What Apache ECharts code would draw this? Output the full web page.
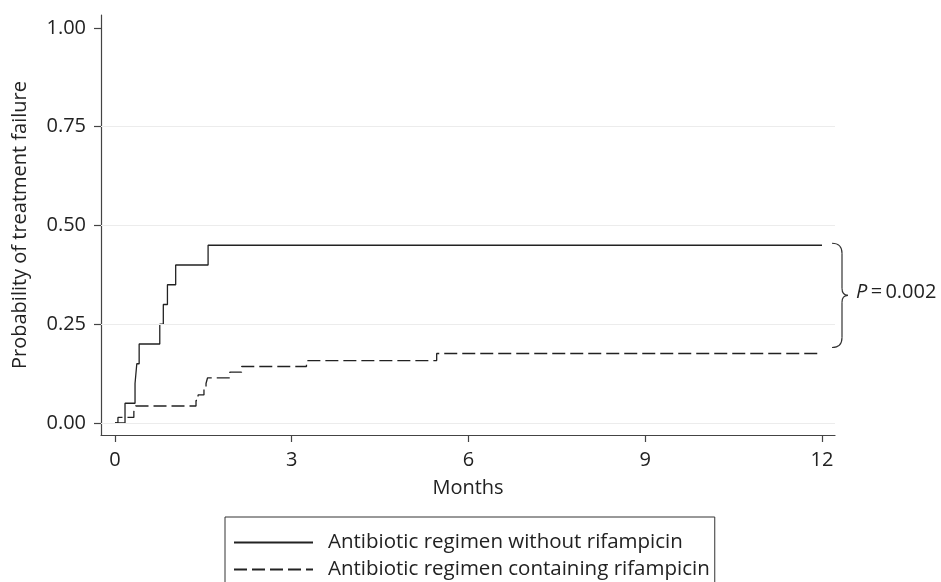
<!DOCTYPE html>
<html>
<head>
<meta charset="utf-8">
<script src="https://cdn.jsdelivr.net/npm/echarts@6/dist/echarts.min.js"></script>
<style>
  html, body { margin: 0; padding: 0; background: #fff; }
  #chart { width: 941px; height: 582px; }
</style>
</head>
<body>
<div id="chart"></div>
<script>
// Kaplan-Meier style cumulative failure
const solidName = 'Antibiotic regimen without rifampicin';
const solidTimes = [0, 0.17, 0.34, 0.37, 0.41, 0.76, 0.82, 0.89, 1.03, 1.58, 12];
const solidProb  = [0, 0.05, 0.10, 0.15, 0.20, 0.25, 0.30, 0.35, 0.40, 0.45, 0.45];

const dashedName = 'Antibiotic regimen containing rifampicin';
const dashedTimes = [0, 0.05, 0.32, 0.35, 1.375, 1.41, 1.51, 1.545, 1.57, 1.95, 2.15, 3.25, 5.46, 12];
const dashedProb  = [0, 0.014, 0.029, 0.043, 0.057, 0.071, 0.086, 0.100, 0.114, 0.129, 0.143, 0.158, 0.176, 0.176];

// Axis ticks
const monthTicks = [0, 3, 6, 9, 12];
const probTicks = [0, 0.25, 0.5, 0.75, 1];
const gridValues = [0, 0.25, 0.5, 0.75];
const pValueText = '0.002';

const FONT = 'Open Sans';
const FS = 20;
const INK = '#222';
const AXIS = '#444';

const chart = echarts.init(document.getElementById('chart'));

function pairs (times, probs) {
    return times.map((t, i) => [t, probs[i]]);
}

// axis lines sit a little outside the data range (Stata style),
// so the ranges are padded and ticks use customValues
let option = {
    animation: false,
    grid: {
        left: 101, right: 106, top: 15, bottom: 147,
        outerBoundsMode: 'none',
        containLabel: false
    },
    xAxis: {
        type: 'value',
        min: -14 / 58.92,
        max: 12 + 13 / 58.92,
        name: 'Months',
        nameLocation: 'middle',
        nameGap: 43,
        nameTextStyle: { fontFamily: FONT, fontSize: FS, color: INK },
        axisLine: { show: true, onZero: false, lineStyle: { color: AXIS, width: 1.2 } },
        axisTick: { show: true, customValues: monthTicks, length: 7, lineStyle: { color: AXIS, width: 1.2 } },
        axisLabel: {
            customValues: monthTicks,
            margin: 15,
            fontFamily: FONT, fontSize: FS, color: INK,
            formatter: v => String(v)
        },
        splitLine: { show: false }
    },
    yAxis: {
        type: 'value',
        min: -12 / 395,
        max: 1 + 13 / 395,
        name: 'Probability of treatment failure',
        nameLocation: 'middle',
        nameGap: 71,
        nameTextStyle: { fontFamily: FONT, fontSize: FS, color: INK },
        axisLine: { show: true, onZero: false, lineStyle: { color: AXIS, width: 1.2 } },
        axisTick: { show: true, customValues: probTicks, length: 7, lineStyle: { color: AXIS, width: 1.2 } },
        axisLabel: {
            customValues: probTicks,
            margin: 15,
            fontFamily: FONT, fontSize: FS, color: INK,
            formatter: v => v.toFixed(2)
        },
        splitLine: { show: false }
    },
    legend: {
        orient: 'vertical',
        left: 225,
        top: 517,
        height: 200,
        padding: [15, 5, 24, 8],
        itemGap: 6,
        itemWidth: 79,
        itemHeight: 14,
        borderColor: '#333',
        borderWidth: 1,
        data: [solidName, dashedName],
        itemStyle: { opacity: 0, color: 'transparent', borderWidth: 0 },
        textStyle: { fontFamily: FONT, fontSize: 20.5, color: INK, lineHeight: 20, padding: [0, 0, 0, 10] }
    },
    series: [
        {
            // light horizontal grid lines
            type: 'line',
            data: [],
            silent: true,
            z: 1,
            markLine: {
                silent: true,
                symbol: ['none', 'none'],
                label: { show: false },
                lineStyle: { color: '#ececec', width: 1, type: 'solid' },
                data: gridValues.map(v => ({ yAxis: v }))
            }
        },
        {
            name: solidName,
            type: 'line',
            step: 'end',
            symbol: 'none',
            z: 3,
            lineStyle: { color: '#222', width: 1.3, type: 'solid' },
            itemStyle: { color: '#222' },
            data: pairs(solidTimes, solidProb)
        },
        {
            name: dashedName,
            type: 'line',
            step: 'end',
            symbol: 'none',
            z: 3,
            lineStyle: { color: '#222', width: 1.3, type: [13, 5] },
            itemStyle: { color: '#222' },
            data: pairs(dashedTimes, dashedProb)
        }
    ]
};
chart.setOption(option);

// Brace between the two curve ends with the log-rank p-value
const lastT = solidTimes[solidTimes.length - 1];
const topPt = chart.convertToPixel({ gridIndex: 0 }, [lastT, solidProb[solidProb.length - 1]]);
const botPt = chart.convertToPixel({ gridIndex: 0 }, [lastT, dashedProb[dashedProb.length - 1]]);
const bx = topPt[0] + 10;
const by0 = topPt[1] - 2;
const by1 = botPt[1] - 6;
const mid = (by0 + by1) / 2;
const vx = bx + 10;
const braceStyle = { fill: 'none', stroke: '#333', lineWidth: 1.2 };

chart.setOption({
    graphic: [
        {
            type: 'group',
            silent: true,
            children: [
                { type: 'bezierCurve', shape: { x1: bx, y1: by0, x2: vx, y2: by0 + 10, cpx1: vx, cpy1: by0 }, style: braceStyle },
                { type: 'line', shape: { x1: vx, y1: by0 + 10, x2: vx, y2: mid - 7 }, style: braceStyle },
                { type: 'bezierCurve', shape: { x1: vx, y1: mid - 7, x2: vx + 6, y2: mid, cpx1: vx, cpy1: mid }, style: braceStyle },
                { type: 'bezierCurve', shape: { x1: vx + 6, y1: mid, x2: vx, y2: mid + 7, cpx1: vx, cpy1: mid }, style: braceStyle },
                { type: 'line', shape: { x1: vx, y1: mid + 7, x2: vx, y2: by1 - 10 }, style: braceStyle },
                { type: 'bezierCurve', shape: { x1: vx, y1: by1 - 10, x2: bx, y2: by1, cpx1: vx, cpy1: by1 }, style: braceStyle }
            ]
        },
        {
            type: 'text',
            left: bx + 24,
            top: mid - 13,
            silent: true,
            style: {
                text: '{i|P}\u2009=\u2009' + pValueText,
                fontFamily: FONT, fontSize: FS, fill: INK,
                rich: { i: { fontFamily: FONT, fontSize: FS, fontStyle: 'italic', fill: INK } }
            }
        }
    ]
});

window.addEventListener('resize', function() {
    chart.resize();
});
</script>
</body>
</html>
